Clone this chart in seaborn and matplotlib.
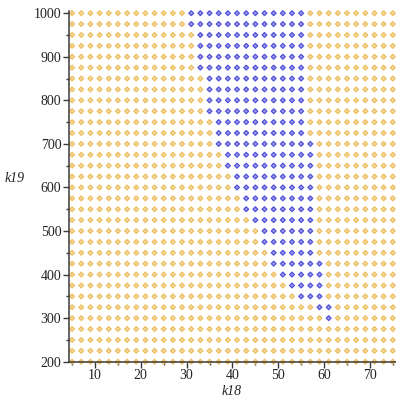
import numpy as np
import pandas as pd
import seaborn as sns
import matplotlib
matplotlib.use("Agg")
from matplotlib import pyplot as plt
from matplotlib.ticker import MultipleLocator

# grid of sampled parameter values
k18 = [5, 7, 9, 11, 13, 15, 17, 19, 21, 23, 25, 27, 29, 31, 33, 35, 37, 39,
       41, 43, 45, 47, 49, 51, 53, 55, 57, 59, 61, 63, 65, 67, 69, 71, 73, 75]
k19 = [200, 225, 250, 275, 300, 325, 350, 375, 400, 425, 450, 475, 500, 525,
       550, 575, 600, 625, 650, 675, 700, 725, 750, 775, 800, 825, 850, 875,
       900, 925, 950, 975, 1000]

# rows that contain blue points: first and last k18 value of the blue run
blue_k19 = [1000, 975, 950, 925, 900, 875, 850, 825, 800, 775, 750, 725, 700,
            675, 650, 625, 600, 575, 550, 525, 500, 475, 450, 425, 400, 375,
            350, 325, 300]
blue_from = [31, 31, 33, 33, 33, 33, 35, 35, 35, 35, 37, 37, 37,
             39, 39, 41, 41, 43, 43, 45, 47, 47, 49, 49, 51, 53,
             55, 59, 61]
blue_to = [55, 55, 55, 55, 55, 55, 55, 55, 55, 55, 55, 55, 57,
           57, 57, 57, 57, 57, 57, 57, 57, 57, 57, 59, 59, 59,
           59, 61, 61]

lo = dict(zip(blue_k19, blue_from))
hi = dict(zip(blue_k19, blue_to))

rows = []
for y in k19:
    for x in k18:
        inside = y in lo and lo[y] <= x <= hi[y]
        rows.append((x, y, "blue" if inside else "orange"))
df = pd.DataFrame(rows, columns=["k18", "k19", "region"])

sns.set_style("white")
plt.rcParams["font.family"] = ["Liberation Serif", "DejaVu Serif"]

fig = plt.figure(figsize=(3.96, 3.98), dpi=100)
ax = fig.add_axes([69 / 396, 36.3 / 398, 327 / 396, 350.7 / 398])

sns.scatterplot(data=df, x="k18", y="k19", hue="region",
                palette={"orange": "#EDBE5E", "blue": "#5050D8"},
                marker="D", s=6, linewidth=0.9, legend=False, ax=ax,
                clip_on=False, zorder=3)

# diamonds with a slightly lighter centre, like the reference dots
pts = ax.collections[0]
fc = np.array(pts.get_facecolors())
pts.set_edgecolors(fc)
light = fc.copy()
light[:, :3] = fc[:, :3] * 0.55 + 0.45
pts.set_facecolors(light)

ax.set_xlim(4.33, 75.7)
ax.set_ylim(200, 1005)
ax.xaxis.set_major_locator(MultipleLocator(10))
ax.xaxis.set_minor_locator(MultipleLocator(5))
ax.yaxis.set_major_locator(MultipleLocator(100))
ax.yaxis.set_minor_locator(MultipleLocator(50))

for side in ["top", "right"]:
    ax.spines[side].set_visible(False)
for side in ["left", "bottom"]:
    ax.spines[side].set_color("#3a3a3a")
    ax.spines[side].set_linewidth(1.1)
    ax.spines[side].set_zorder(4)

ax.tick_params(which="major", direction="out", length=4, width=1,
               color="#3a3a3a", labelsize=10, labelcolor="#222222", pad=1.5)
ax.tick_params(which="minor", direction="out", length=2.5, width=1,
               color="#3a3a3a")
ax.tick_params(axis="x", which="both", bottom=True)
ax.tick_params(axis="y", which="both", left=True)

ax.set_xlabel("k18", fontsize=10, style="italic", color="#222222")
ax.set_ylabel("k19", fontsize=10, style="italic", color="#222222",
              rotation=0)
ax.xaxis.set_label_coords(0.498, -0.066)
ax.yaxis.set_label_coords(-0.165, 0.504)

fig.savefig("out.png", dpi=100)
